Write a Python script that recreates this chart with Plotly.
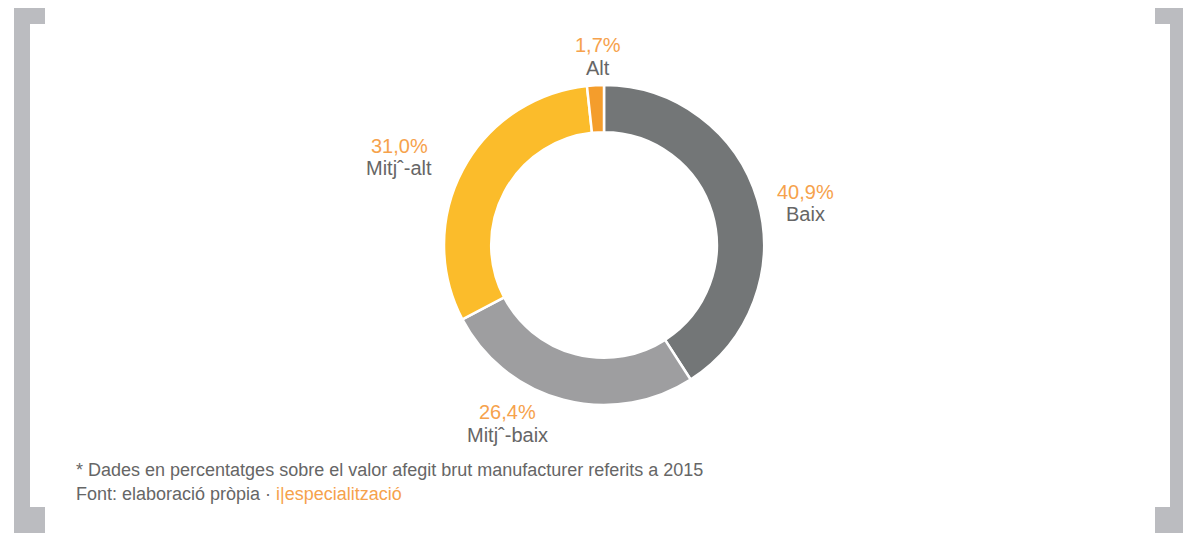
import plotly.graph_objects as go

categories = ["Baix", "Mitjˆ-baix", "Mitjˆ-alt", "Alt"]
values = [40.9, 26.4, 31.0, 1.7]
colors = ["#737677", "#9e9ea0", "#fbbc2b", "#f49d2c"]
note_line1 = "* Dades en percentatges sobre el valor afegit brut manufacturer referits a 2015"
source_text = "Font: elaboració pròpia · "
source_brand = "i|especialització"

W, H = 1191, 533
OFF = 8  # page body margin offset


def px(x):
    return (x - OFF) / W


def py(y):
    return 1 - (y - OFF) / H


fig = go.Figure()
fig.add_trace(go.Pie(
    labels=categories, values=values, sort=False, direction="clockwise", rotation=0,
    hole=0.705, marker=dict(colors=colors, line=dict(color="white", width=2.5)),
    textinfo="none", hoverinfo="label+percent", showlegend=False,
    domain=dict(x=[px(444), px(764)], y=[py(405), py(85)]),
))

# label positions (pixels, centre of percentage line / category line)
label_pos = [(805, 192), (507, 412), (399, 146), (598, 45)]
FONT = "Liberation Sans, Arial, sans-serif"
anns = []
for cat, v, (lx, ly) in zip(categories, values, label_pos):
    anns.append(dict(x=px(lx), y=py(ly), xref="paper", yref="paper",
                     text=f"{v:.1f}%".replace(".", ","),
                     showarrow=False, xanchor="center", yanchor="middle",
                     font=dict(family=FONT, size=20, color="#f6a24c")))
    anns.append(dict(x=px(lx), y=py(ly + 22.5), xref="paper", yref="paper", text=cat,
                     showarrow=False, xanchor="center", yanchor="middle",
                     font=dict(family=FONT, size=20, color="#666666")))
anns.append(dict(x=px(74), y=py(470), xref="paper", yref="paper", text=note_line1,
                 showarrow=False, xanchor="left", yanchor="middle",
                 font=dict(family=FONT, size=18, color="#666666")))
anns.append(dict(x=px(74), y=py(494), xref="paper", yref="paper",
                 text=source_text + f"<span style='color:#f6a24c'>{source_brand}</span>",
                 showarrow=False, xanchor="left", yanchor="middle",
                 font=dict(family=FONT, size=18, color="#666666")))

# bracket frame
gray = "#bbbcc0"
shapes = []


def rect(x0, y0, x1, y1):
    shapes.append(dict(type="rect", xref="paper", yref="paper", x0=px(x0), x1=px(x1),
                       y0=py(y1), y1=py(y0), fillcolor=gray, line=dict(width=0),
                       layer="below"))


rect(14, 7, 30, 545); rect(14, 7, 45, 24); rect(14, 507, 45, 545)
rect(1170, 7, 1186, 545); rect(1155, 7, 1186, 24); rect(1155, 507, 1186, 545)

fig.update_layout(width=W, height=H, margin=dict(l=0, r=0, t=0, b=0),
                  paper_bgcolor="white", plot_bgcolor="white",
                  annotations=anns, shapes=shapes)
fig.write_html("out.html")
